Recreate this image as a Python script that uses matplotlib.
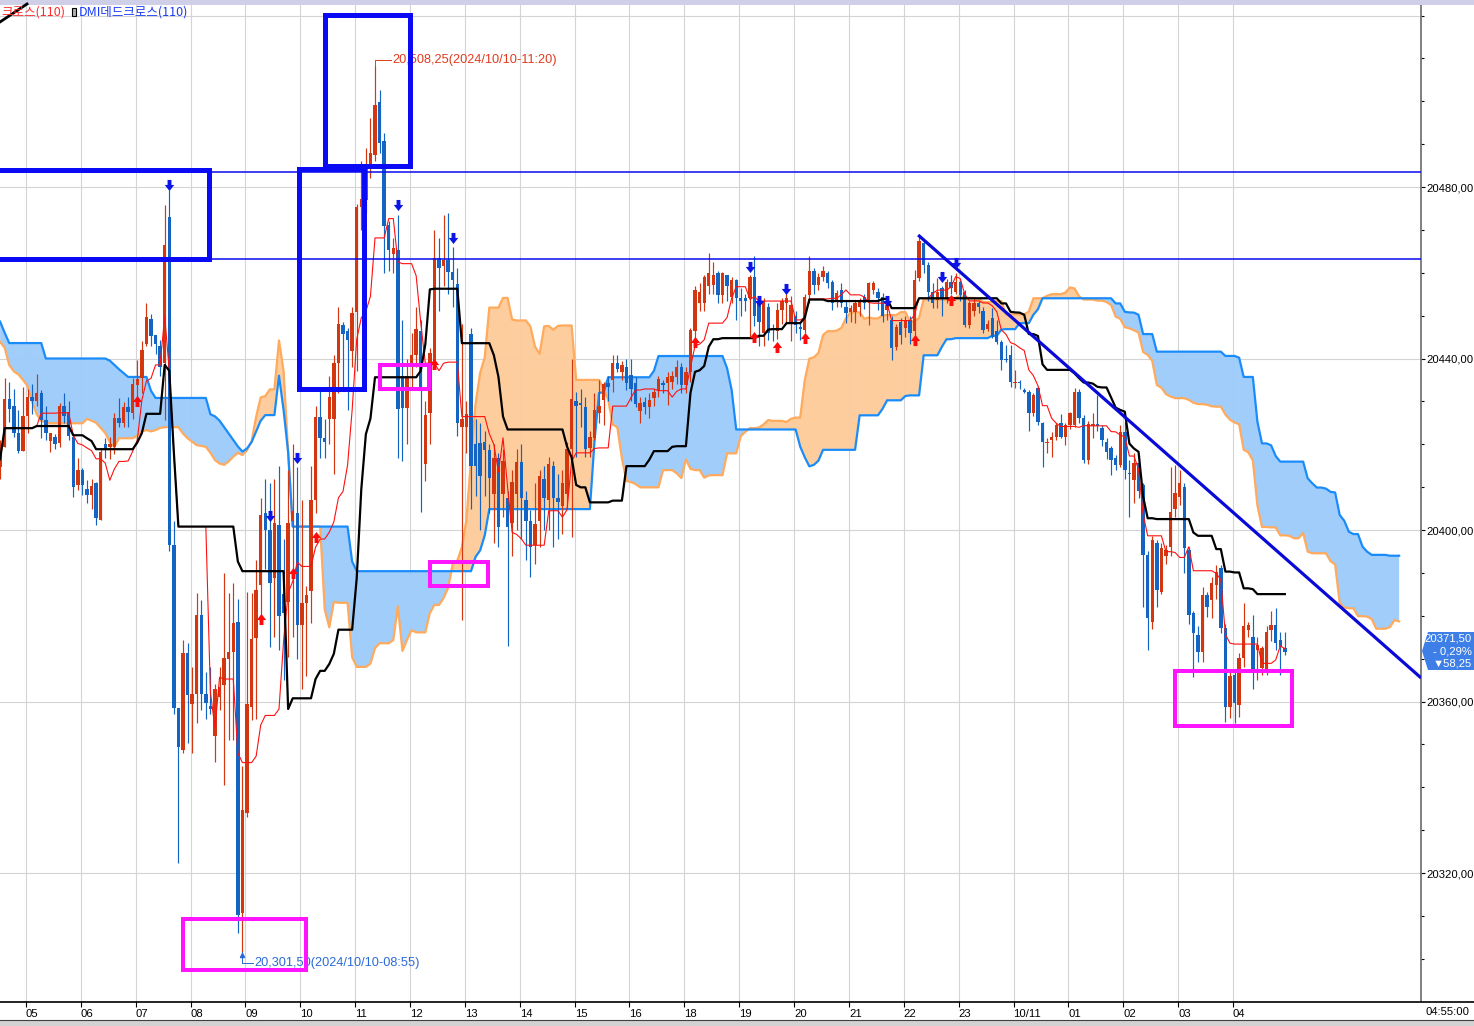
import matplotlib
matplotlib.use('Agg')
import matplotlib.pyplot as plt
from matplotlib.patches import Rectangle, Polygon
from matplotlib.path import Path
from matplotlib.lines import Line2D
from matplotlib.ticker import MultipleLocator
import numpy as np
import pandas as pd

# 5-minute bars, 2024/10/10 04:30 -> 2024/10/11 04:55 (one row per hour)
opens = [
    20414.7, 20419.4, 20430.6, 20429.0, 20422.6, 20418.4,
    20426.6, 20431.0, 20430.0, 20432.0, 20425.7, 20420.8, 20421.7, 20420.3, 20429.0, 20427.5, 20421.7, 20410.5,
    20414.0, 20409.5, 20408.2, 20411.0, 20402.3, 20420.0, 20419.4, 20419.4, 20426.2, 20425.0, 20428.7, 20427.3,
    20433.8, 20435.5, 20443.5, 20449.2, 20445.5, 20443.0, 20439.0, 20473.0, 20396.5, 20358.5, 20348.7, 20371.3,
    20359.5, 20361.8, 20380.2, 20361.8, 20359.0, 20352.0, 20361.0, 20363.9, 20369.8, 20371.6, 20378.5, 20310.7,
    20334.0, 20358.8, 20374.8, 20387.2, 20404.0, 20400.0, 20388.8, 20401.2, 20385.0, 20383.2, 20402.0, 20403.9,
    20377.8, 20383.0, 20385.8, 20407.0, 20426.4, 20421.4, 20426.0, 20426.0, 20438.9, 20447.7, 20446.3, 20441.7,
    20450.9, 20475.4, 20477.0, 20485.1, 20487.4, 20499.8, 20490.8, 20471.2, 20464.3, 20465.2, 20436.0, 20428.5,
    20438.0, 20440.8, 20446.3, 20415.4, 20427.4, 20439.4, 20463.4, 20461.5, 20462.9, 20460.2, 20457.4, 20424.0,
    20424.0, 20445.8, 20420.0, 20420.4, 20420.5, 20418.6, 20408.4, 20416.7, 20408.4, 20407.5, 20401.6, 20408.4,
    20415.8, 20407.0, 20402.0, 20396.4, 20402.0, 20412.0, 20407.0, 20414.9, 20407.5, 20405.7, 20408.4, 20419.0,
    20430.0, 20429.7, 20428.8, 20419.2, 20421.4, 20427.2, 20430.3, 20434.2, 20435.0, 20438.9, 20436.9, 20438.1,
    20436.2, 20434.2, 20427.8, 20429.9, 20428.8, 20430.7, 20432.5, 20434.2, 20434.2, 20434.6, 20435.7, 20438.1,
    20433.8, 20436.9, 20446.3, 20452.9, 20452.9, 20456.8, 20457.1, 20459.9, 20454.8, 20459.5, 20454.4, 20458.3,
    20454.0, 20454.0, 20454.0, 20459.1, 20453.3, 20445.9, 20452.1, 20447.0, 20446.5, 20451.3, 20452.9, 20448.2,
    20449.8, 20447.4, 20446.6, 20454.8, 20460.3, 20457.1, 20459.1, 20459.9, 20457.9, 20453.3, 20456.0, 20452.1,
    20450.9, 20450.9, 20452.1, 20454.4, 20453.6, 20455.9, 20455.6, 20454.4, 20451.3, 20449.0, 20442.8, 20448.6,
    20447.0, 20449.0, 20446.3, 20458.7, 20466.9, 20461.8, 20455.6, 20453.6, 20456.4, 20454.0, 20457.9, 20455.6,
    20457.9, 20455.6, 20447.8, 20451.1, 20452.9, 20451.1, 20446.8, 20449.4, 20446.3, 20443.9, 20440.0, 20440.8,
    20434.2, 20434.6, 20432.7, 20432.3, 20427.2, 20433.1, 20424.9, 20420.2, 20421.0, 20421.8, 20424.9, 20421.8,
    20424.5, 20424.5, 20432.3, 20426.1, 20416.3, 20424.3, 20424.7, 20423.7, 20420.6, 20419.1, 20416.7, 20415.2,
    20422.9, 20413.4, 20411.7, 20415.7, 20410.5, 20394.2, 20378.6, 20396.9, 20385.6, 20394.0, 20396.1, 20405.0,
    20407.8, 20410.1, 20395.3, 20380.6, 20375.5, 20371.6, 20384.9, 20383.7, 20387.2, 20391.1, 20377.1, 20358.8,
    20366.2, 20359.2, 20370.1, 20376.7, 20375.1, 20372.0, 20367.8, 20367.4, 20376.7, 20377.9, 20374.4, 20372.5,
]
highs = [
    20421.0, 20435.5, 20434.5, 20433.0, 20428.0, 20433.4,
    20433.0, 20434.0, 20436.5, 20432.7, 20429.0, 20422.6, 20422.5, 20429.6, 20432.0, 20430.0, 20422.0, 20416.8,
    20414.5, 20411.7, 20412.0, 20411.2, 20419.2, 20421.5, 20421.7, 20427.3, 20430.8, 20429.8, 20431.0, 20435.5,
    20439.6, 20444.0, 20453.0, 20450.4, 20445.5, 20444.3, 20475.8, 20479.3, 20402.0, 20358.5, 20374.4, 20373.6,
    20368.0, 20385.3, 20383.7, 20367.0, 20368.0, 20364.0, 20368.0, 20390.0, 20385.3, 20387.7, 20384.0, 20345.0,
    20385.5, 20385.3, 20393.0, 20407.5, 20412.0, 20411.0, 20412.0, 20415.0, 20398.0, 20414.0, 20420.0, 20414.7,
    20407.0, 20387.0, 20414.9, 20429.0, 20432.8, 20426.0, 20436.0, 20440.8, 20452.0, 20448.5, 20447.0, 20452.0,
    20476.0, 20486.0, 20489.0, 20496.0, 20508.25, 20502.6, 20492.5, 20472.0, 20468.0, 20473.5, 20449.0, 20440.0,
    20446.0, 20452.0, 20449.0, 20430.0, 20442.5, 20470.0, 20468.0, 20473.5, 20474.0, 20466.0, 20461.0, 20448.1,
    20430.0, 20447.0, 20426.0, 20425.0, 20423.0, 20420.0, 20420.0, 20418.0, 20419.0, 20409.0, 20414.0, 20419.0,
    20420.0, 20409.0, 20404.7, 20411.0, 20414.0, 20415.0, 20417.0, 20416.0, 20413.0, 20414.0, 20420.5, 20440.0,
    20432.3, 20433.0, 20431.0, 20423.0, 20431.9, 20435.0, 20434.6, 20436.0, 20440.8, 20440.8, 20439.5, 20440.0,
    20440.0, 20435.7, 20431.0, 20431.0, 20431.9, 20433.0, 20436.0, 20435.0, 20436.9, 20437.0, 20439.7, 20439.0,
    20438.0, 20447.0, 20456.8, 20457.5, 20459.5, 20464.5, 20462.6, 20460.5, 20460.2, 20459.5, 20459.0, 20458.5,
    20456.4, 20455.0, 20459.5, 20463.8, 20454.5, 20454.0, 20453.0, 20448.0, 20452.9, 20454.0, 20455.0, 20454.5,
    20451.0, 20448.6, 20455.0, 20463.8, 20461.0, 20460.0, 20461.5, 20460.5, 20458.3, 20456.0, 20457.5, 20453.6,
    20452.5, 20453.3, 20454.0, 20455.0, 20457.9, 20458.0, 20456.4, 20455.2, 20453.0, 20449.8, 20448.0, 20449.5,
    20450.0, 20450.0, 20460.6, 20468.4, 20467.5, 20462.5, 20457.5, 20458.7, 20457.0, 20458.5, 20459.5, 20459.9,
    20458.3, 20456.0, 20453.5, 20454.0, 20453.5, 20452.0, 20449.0, 20451.7, 20449.0, 20444.3, 20443.2, 20443.2,
    20437.3, 20435.0, 20433.1, 20432.7, 20432.0, 20433.5, 20425.3, 20421.5, 20422.9, 20425.0, 20427.0, 20425.0,
    20427.5, 20433.1, 20433.0, 20426.8, 20425.5, 20427.2, 20431.5, 20424.5, 20421.4, 20419.5, 20417.5, 20424.5,
    20425.3, 20416.3, 20417.9, 20417.5, 20410.9, 20395.0, 20398.5, 20397.7, 20396.9, 20396.5, 20414.8, 20415.2,
    20414.0, 20411.0, 20396.0, 20381.0, 20377.5, 20386.8, 20385.6, 20389.1, 20391.9, 20391.9, 20378.0, 20367.4,
    20367.0, 20371.3, 20382.9, 20378.6, 20380.2, 20375.0, 20373.0, 20377.5, 20381.0, 20381.7, 20376.3, 20376.3,
]
lows = [
    20412.0, 20419.4, 20425.2, 20421.7, 20418.0, 20418.4,
    20422.6, 20427.0, 20429.0, 20421.5, 20421.0, 20418.2, 20419.0, 20419.4, 20425.0, 20421.0, 20407.7, 20409.3,
    20408.2, 20406.3, 20405.0, 20401.2, 20402.3, 20416.8, 20416.5, 20417.7, 20424.0, 20424.0, 20424.0, 20426.0,
    20430.4, 20432.0, 20443.0, 20443.0, 20441.0, 20436.0, 20425.7, 20395.0, 20357.0, 20322.3, 20348.0, 20350.4,
    20348.0, 20355.0, 20358.0, 20356.0, 20357.0, 20346.0, 20358.0, 20340.5, 20351.0, 20351.0, 20306.0, 20301.5,
    20333.0, 20355.7, 20356.0, 20379.0, 20391.0, 20372.7, 20375.0, 20372.0, 20365.0, 20370.4, 20375.0, 20370.0,
    20363.0, 20366.0, 20378.3, 20404.0, 20416.8, 20416.8, 20420.0, 20413.0, 20432.0, 20432.9, 20428.0, 20438.0,
    20437.0, 20470.0, 20474.0, 20482.0, 20486.0, 20488.0, 20460.0, 20460.5, 20460.0, 20416.8, 20416.0, 20420.0,
    20433.0, 20438.0, 20404.3, 20411.4, 20420.0, 20438.0, 20451.0, 20457.0, 20455.0, 20452.0, 20422.0, 20378.9,
    20418.0, 20405.0, 20408.0, 20400.0, 20408.0, 20404.0, 20397.0, 20396.0, 20403.0, 20372.9, 20394.0, 20400.0,
    20398.0, 20393.0, 20389.0, 20392.0, 20396.0, 20400.0, 20400.0, 20396.0, 20398.0, 20399.0, 20405.0, 20398.3,
    20417.0, 20424.0, 20417.0, 20417.0, 20421.0, 20425.0, 20424.5, 20430.0, 20432.3, 20436.9, 20435.0, 20432.7,
    20430.0, 20428.8, 20425.0, 20427.0, 20426.1, 20429.0, 20431.0, 20432.0, 20429.2, 20433.0, 20434.0, 20432.0,
    20432.0, 20434.6, 20443.5, 20451.0, 20451.0, 20455.0, 20455.0, 20453.0, 20453.0, 20453.3, 20453.0, 20449.0,
    20449.8, 20451.0, 20445.0, 20447.5, 20443.0, 20443.0, 20444.3, 20444.0, 20444.5, 20448.0, 20448.0, 20444.0,
    20446.0, 20444.3, 20446.0, 20453.0, 20455.0, 20456.0, 20458.0, 20456.4, 20451.3, 20452.0, 20452.1, 20448.2,
    20448.5, 20448.2, 20450.0, 20451.5, 20447.8, 20455.0, 20451.3, 20448.5, 20449.0, 20439.7, 20442.0, 20443.5,
    20445.0, 20443.5, 20445.0, 20458.0, 20459.9, 20453.3, 20451.7, 20451.7, 20449.8, 20453.0, 20455.0, 20455.0,
    20453.5, 20447.4, 20447.0, 20450.0, 20450.5, 20446.0, 20446.3, 20444.7, 20443.5, 20437.3, 20439.3, 20433.4,
    20433.1, 20433.0, 20432.0, 20423.0, 20426.5, 20424.5, 20414.8, 20418.0, 20417.0, 20421.0, 20421.4, 20419.8,
    20423.5, 20424.0, 20425.0, 20415.6, 20415.5, 20421.4, 20423.0, 20419.5, 20416.5, 20412.8, 20414.0, 20414.8,
    20412.0, 20403.0, 20406.2, 20407.4, 20382.1, 20372.0, 20377.0, 20382.0, 20385.0, 20392.0, 20394.0, 20403.0,
    20405.8, 20389.9, 20378.0, 20365.8, 20369.3, 20369.3, 20379.8, 20379.4, 20384.0, 20376.0, 20355.3, 20356.1,
    20354.9, 20356.5, 20368.0, 20375.0, 20363.0, 20365.0, 20366.2, 20366.2, 20374.0, 20372.0, 20366.2, 20370.9,
]
closes = [
    20419.8, 20430.6, 20428.2, 20422.6, 20418.4, 20426.6,
    20431.0, 20430.0, 20432.0, 20425.7, 20422.6, 20422.6, 20420.0, 20429.0, 20426.6, 20422.0, 20410.0, 20414.0,
    20410.5, 20408.2, 20410.3, 20402.8, 20418.2, 20419.2, 20420.0, 20426.2, 20425.0, 20428.7, 20427.5, 20434.0,
    20435.2, 20442.0, 20449.6, 20445.2, 20443.5, 20438.0, 20466.5, 20396.5, 20358.5, 20349.4, 20371.3, 20361.5,
    20361.8, 20380.2, 20361.8, 20359.7, 20358.3, 20363.0, 20363.5, 20370.2, 20371.6, 20378.3, 20310.2, 20334.7,
    20359.4, 20374.6, 20386.0, 20403.5, 20400.0, 20387.6, 20401.6, 20380.0, 20380.6, 20401.6, 20404.5, 20377.8,
    20383.0, 20384.8, 20407.0, 20426.4, 20421.4, 20420.5, 20431.0, 20438.9, 20448.1, 20445.8, 20444.4, 20450.5,
    20475.4, 20477.2, 20485.0, 20487.9, 20499.1, 20490.2, 20470.8, 20465.2, 20465.7, 20428.3, 20428.5, 20436.0,
    20440.8, 20446.9, 20432.9, 20426.9, 20441.2, 20463.4, 20461.1, 20462.9, 20460.2, 20458.3, 20425.0, 20426.0,
    20427.0, 20414.9, 20414.9, 20412.5, 20418.6, 20412.1, 20416.7, 20400.6, 20416.2, 20400.6, 20411.2, 20415.8,
    20407.5, 20402.0, 20396.0, 20401.5, 20412.6, 20407.5, 20415.4, 20407.5, 20406.5, 20411.0, 20419.0, 20430.6,
    20429.0, 20429.2, 20419.0, 20421.8, 20428.1, 20429.0, 20434.0, 20433.4, 20438.9, 20437.5, 20438.5, 20434.2,
    20432.8, 20429.5, 20429.7, 20428.8, 20430.3, 20432.3, 20435.2, 20433.8, 20435.7, 20435.9, 20438.1, 20433.8,
    20436.9, 20446.6, 20456.0, 20455.6, 20459.1, 20459.9, 20459.5, 20454.8, 20459.9, 20456.8, 20458.3, 20454.0,
    20453.3, 20453.3, 20459.1, 20449.8, 20448.6, 20453.3, 20445.9, 20446.7, 20451.3, 20453.3, 20454.0, 20452.5,
    20447.8, 20446.9, 20454.4, 20460.3, 20457.1, 20459.1, 20460.3, 20457.5, 20452.9, 20455.2, 20452.9, 20450.5,
    20451.7, 20452.9, 20453.6, 20452.9, 20457.5, 20457.5, 20454.0, 20449.8, 20452.5, 20442.4, 20447.4, 20445.5,
    20449.0, 20446.0, 20458.3, 20467.3, 20461.8, 20455.6, 20452.9, 20455.6, 20454.0, 20457.9, 20456.4, 20457.9,
    20454.8, 20447.8, 20452.9, 20452.9, 20451.9, 20446.6, 20448.0, 20445.1, 20443.9, 20439.6, 20439.6, 20434.6,
    20434.6, 20434.2, 20432.3, 20427.2, 20431.5, 20425.3, 20420.6, 20420.6, 20421.8, 20424.5, 20421.8, 20424.5,
    20427.2, 20432.3, 20426.1, 20416.3, 20424.7, 20424.7, 20424.3, 20421.0, 20418.3, 20416.3, 20415.2, 20422.9,
    20414.0, 20413.0, 20415.7, 20409.2, 20394.2, 20379.4, 20397.7, 20386.0, 20395.7, 20395.3, 20404.3, 20408.6,
    20410.9, 20395.7, 20380.2, 20375.9, 20371.6, 20384.9, 20382.1, 20387.6, 20390.3, 20377.1, 20358.8, 20366.0,
    20359.6, 20370.1, 20377.5, 20377.9, 20367.4, 20373.2, 20372.4, 20376.3, 20377.9, 20373.6, 20372.8, 20371.5,
]

# ichimoku cloud before the chart history is long enough
early_span_a = [
    20443.9, 20442.5, 20438.5, 20437.0, 20436.3, 20435.0, 20433.6, 20430.0, 20427.0, 20425.5,
    20425.0, 20424.9, 20424.9, 20424.9, 20424.9, 20424.9, 20424.9, 20424.9, 20424.9, 20425.9,
    20425.5, 20425.0, 20423.8, 20422.6, 20420.5, 20419.4, 20421.4, 20421.4, 20421.4, 20421.4,
    20422.0, 20423.0, 20423.3, 20423.0, 20423.3, 20423.8, 20424.0, 20424.0, 20424.0, 20424.0,
    20422.5, 20421.4, 20420.6, 20419.8, 20419.6, 20419.4, 20418.0, 20416.3, 20415.5, 20415.2,
    20416.0, 20417.1, 20418.0,
]
early_span_b = [
    20448.6, 20446.0, 20443.6, 20443.6, 20443.6, 20443.6, 20443.6, 20443.6, 20443.6, 20443.6,
    20440.0, 20440.0, 20440.0, 20440.0, 20440.0, 20440.0, 20440.0, 20440.0, 20440.0, 20440.0,
    20440.0, 20440.0, 20440.0, 20440.0, 20439.5, 20438.5, 20437.5, 20436.6, 20435.7, 20435.7,
    20435.7, 20435.7, 20435.7, 20432.5, 20430.8, 20430.8, 20430.8, 20430.8, 20430.8, 20430.8,
    20430.8, 20430.8, 20430.8, 20430.8, 20430.8, 20430.8, 20427.0, 20426.5, 20425.5, 20424.0,
    20422.5, 20421.0, 20419.5, 20418.3, 20419.0, 20420.5, 20423.0, 20425.5, 20426.8, 20426.8,
    20426.8, 20436.0, 20428.0,
]

tick_bars = [6, 18, 30, 42, 54, 66, 78, 90, 102, 114, 126, 138, 150, 162, 174, 186, 198, 210, 222, 234, 246, 258, 270]
tick_labels = ['05', '06', '07', '08', '09', '10', '11', '12', '13', '14', '15', '16', '18',
               '19', '20', '21', '22', '23', '10/11', '01', '02', '03', '04']

sell_bars = [37, 59, 65, 87, 99, 164, 166, 172, 194, 206, 209]
sell_prices = [20480.5, 20403.3, 20416.8, 20475.8, 20468.1, 20461.3, 20453.4, 20456.2, 20453.4, 20459.0, 20462.3]
buy_bars = [30, 57, 64, 69, 95, 152, 165, 170, 176, 200, 208]
buy_prices = [20430.1, 20379.2, 20390.0, 20398.4, 20438.7, 20443.8, 20445.0, 20442.7, 20444.8, 20444.3, 20453.6]

assert len(opens) == len(highs) == len(lows) == len(closes) == 282

o = np.array(opens); h = np.array(highs); l = np.array(lows); c = np.array(closes)
n = len(c)
x = np.arange(n)
shift = 25

# ichimoku lines
hs, ls = pd.Series(h), pd.Series(l)
tenkan = ((hs.rolling(9, min_periods=1).max() + ls.rolling(9, min_periods=1).min()) / 2).values
kijun = ((hs.rolling(26, min_periods=1).max() + ls.rolling(26, min_periods=1).min()) / 2).values
senkou_b = ((hs.rolling(52, min_periods=1).max() + ls.rolling(52, min_periods=1).min()) / 2).values

xd = np.arange(n + shift)
span_a = np.full(n + shift, np.nan)
span_b = np.full(n + shift, np.nan)
span_a[shift:] = (tenkan + kijun) / 2
span_b[shift:] = senkou_b
span_a[:len(early_span_a)] = early_span_a
span_b[:len(early_span_b)] = early_span_b

W, H = 1474, 1026
fig = plt.figure(figsize=(W / 100, H / 100), dpi=100)
fig.patch.set_facecolor('white')


def fx(px):
    return px / W


def fy(py):
    return 1 - py / H


ax = fig.add_axes([0, fy(1001), fx(1421), (1001 - 5) / H])
ax.set_xlim(-0.0219, 310.78)
ax.set_ylim(20290.15, 20522.45)

NUM = ['Liberation Sans', 'DejaVu Sans']
KR = ['Noto Sans CJK KR', 'DejaVu Sans']
FS = 8.1

# grid
for tb in tick_bars:
    ax.axvline(tb - 0.34, color='#d4d4d4', lw=0.8, zorder=0.5)
for gy in [20320, 20360, 20400, 20440, 20480, 20520]:
    ax.axhline(gy, color='#d4d4d4', lw=0.8, zorder=0.5)

# cloud
ax.fill_between(xd, span_a, span_b, where=span_b >= span_a, interpolate=True,
                color='#9ccbfb', lw=0, zorder=1, alpha=0.95)
ax.fill_between(xd, span_a, span_b, where=span_a > span_b, interpolate=True,
                color='#fdcb99', lw=0, zorder=1, alpha=0.95)
ax.plot(xd, span_a, color='#ffaa5c', lw=1.6, zorder=2)
ax.plot(xd, span_b, color='#1a8cfa', lw=1.6, zorder=2.1)

# candles
up_col, dn_col = '#d4360f', '#1464c4'
cols = np.where(c >= o, up_col, dn_col)
ax.vlines(x, l, h, colors=cols, lw=0.85, zorder=3)
body_low = np.minimum(o, c)
body_h = np.maximum(np.abs(c - o), 0.3)
ax.bar(x, body_h, bottom=body_low, width=0.74, color=cols, lw=0, zorder=3.5)

# conversion / base lines
ax.plot(x, tenkan, color='#ff1010', lw=0.8, zorder=4)
ax.plot(x, kijun, color='black', lw=1.6, zorder=4.2)

# signal arrows
dn_arrow = Path([(-0.35, 1), (0.35, 1), (0.35, 0.1), (0.85, 0.1), (0, -1), (-0.85, 0.1), (-0.35, 0.1), (-0.35, 1)],
                [Path.MOVETO] + [Path.LINETO] * 6 + [Path.CLOSEPOLY])
up_arrow = Path([(-0.35, -1), (0.35, -1), (0.35, -0.1), (0.85, -0.1), (0, 1), (-0.85, -0.1), (-0.35, -0.1), (-0.35, -1)],
                [Path.MOVETO] + [Path.LINETO] * 6 + [Path.CLOSEPOLY])
ax.plot(sell_bars, sell_prices, ls='none', marker=dn_arrow, ms=8, color='#0a14e6', mew=0, zorder=6)
ax.plot(buy_bars, buy_prices, ls='none', marker=up_arrow, ms=8, color='#ff0a0a', mew=0, zorder=6)

# drawn support/resistance lines
ax.axhline(20483.6, color='#0a0af0', lw=1.1, zorder=5)
ax.axhline(20463.1, color='#0a0af0', lw=1.1, zorder=5)
ax.plot([200.8, 310.8], [20468.8, 20365.5], color='#0a0ad8', lw=2.3, zorder=5, solid_capstyle='butt')

# high / low labels
ax.plot([82, 82, 85.4], [20508.25, 20509.6, 20509.6], color='#e03a1e', lw=0.7, zorder=7)
ax.text(85.7, 20509.6, '20,508,25(2024/10/10-11:20)', color='#e03a1e', fontsize=9.2,
        family=NUM, va='center', ha='left', zorder=7)
ax.plot([53, 53, 55.4], [20301.5, 20299.0, 20299.0], color='#2a6ad6', lw=0.7, zorder=7)
ax.plot([53], [20300.9], marker='^', ms=3, color='#2a6ad6', zorder=7)
ax.text(55.7, 20299.0, '20,301,50(2024/10/10-08:55)', color='#2a6ad6', fontsize=9.2,
        family=NUM, va='center', ha='left', zorder=7)

# drawn boxes
blue_boxes = [(-0.68, 20463.3, 46.3, 20.55), (65.27, 20433.0, 14.23, 51.1), (71.17, 20484.8, 18.38, 35.4)]
pink_boxes = [(40.1, 20297.3, 26.7, 11.9), (83.0, 20432.8, 10.7, 5.8), (93.92, 20387.05, 12.78, 5.6),
              (256.9, 20354.3, 25.6, 12.8)]
for bx, by, bw, bh in blue_boxes:
    ax.add_patch(Rectangle((bx, by), bw, bh, fill=False, ec='#0a0af5', lw=3.6, zorder=8, joinstyle='miter'))
for bx, by, bw, bh in pink_boxes:
    ax.add_patch(Rectangle((bx, by), bw, bh, fill=False, ec='#ff14ff', lw=2.9, zorder=8, joinstyle='miter'))

# axes styling
for side in ['left', 'top', 'bottom']:
    ax.spines[side].set_visible(False)
ax.spines['right'].set_color('#6a6a6a')
ax.spines['right'].set_linewidth(1.2)
ax.yaxis.tick_right()
ytk = [20320, 20360, 20400, 20440, 20480]
ax.set_yticks(ytk, [f'{v:.2f}'.replace('.', ',') for v in ytk])
ax.yaxis.set_minor_locator(MultipleLocator(10))
ax.tick_params(axis='y', which='major', length=3.2, width=0.8, pad=0.5, labelsize=FS)
ax.tick_params(axis='y', which='minor', length=2.2, width=0.8)
ax.set_xticks([t - 0.34 for t in tick_bars], tick_labels)
ax.tick_params(axis='x', length=4, width=0.8, pad=1.5, labelsize=FS)
for t in ax.get_xticklabels():
    t.set_ha('left')
    t.set_family(NUM)
for t in ax.get_yticklabels():
    t.set_family(NUM)

# frame pieces outside the axes
fig.add_artist(Rectangle((0, fy(5)), 1, 5 / H, transform=fig.transFigure, color='#cfd0e8', lw=0))
fig.add_artist(Line2D([0, 1], [fy(1001.5), fy(1001.5)], transform=fig.transFigure, color='black', lw=1.2))
fig.add_artist(Rectangle((0, 0), 1, 6 / H, transform=fig.transFigure, color='#d2d2d2', lw=0))
fig.add_artist(Line2D([0, 1], [fy(1019.5), fy(1019.5)], transform=fig.transFigure, color='#404040', lw=0.8))
fig.text(fx(1425), fy(1012), '04:55:00', fontsize=FS, family=NUM, va='center', ha='left')

# last price tag
tag = [(1422, 651), (1428, 632), (1474, 632), (1474, 670), (1428, 670)]
fig.add_artist(Polygon([(fx(px), fy(py)) for px, py in tag], closed=True, transform=fig.transFigure,
                       color='#3d7fe6', lw=0))
fig.text(fx(1472), fy(638.5), '20371,50', color='white', fontsize=FS, family=NUM, ha='right', va='center')
fig.text(fx(1472), fy(651), '- 0,29%', color='white', fontsize=FS, family=NUM, ha='right', va='center')
fig.text(fx(1472), fy(663.5), '\u25bc58,25', color='white', fontsize=FS, family=NUM, ha='right', va='center')

# indicator legend (top-left)
fig.text(fx(1), fy(12), '크로스(110)', color='#ff2a2a', fontsize=9, family=KR, va='center', ha='left')
fig.add_artist(Line2D([fx(0), fx(27)], [fy(22), fy(4)], transform=fig.transFigure, color='black', lw=2))
fig.add_artist(Rectangle((fx(72), fy(16)), 4 / W, 8 / H, transform=fig.transFigure,
                         fc='#b0b0b0', ec='black', lw=0.8))
fig.text(fx(79), fy(12), 'DMI데드크로스(110)', color='#1a3cf5', fontsize=9, family=KR, va='center', ha='left')

fig.savefig('out.png', dpi=100)
